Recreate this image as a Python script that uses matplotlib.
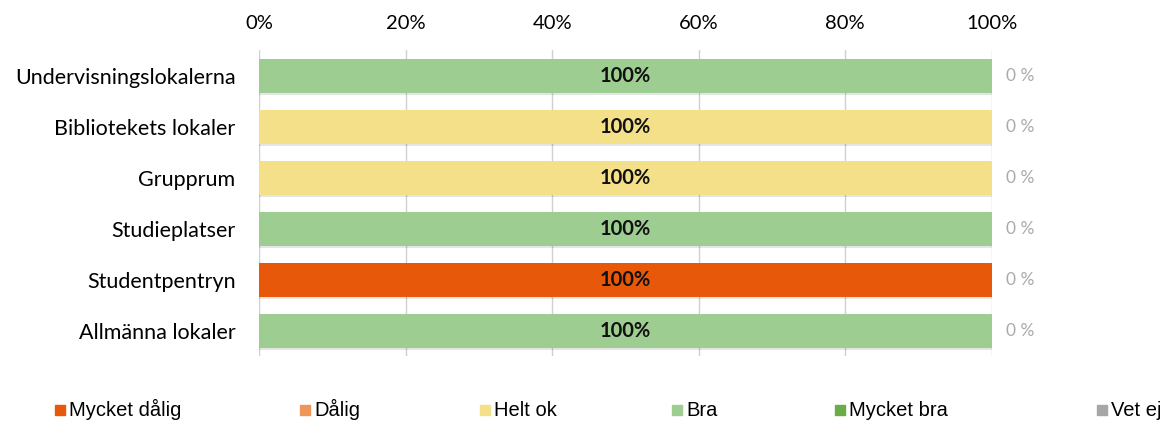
import matplotlib.pyplot as plt
from matplotlib.patches import Rectangle
from matplotlib.ticker import PercentFormatter

categories = ['Undervisningslokalerna', 'Bibliotekets lokaler', 'Grupprum',
              'Studieplatser', 'Studentpentryn', 'Allmänna lokaler']
ratings = ['Mycket dålig', 'Dålig', 'Helt ok', 'Bra', 'Mycket bra']
colors = ['#E8580A', '#F0955A', '#F5E08A', '#9DCD91', '#68AD47']

mycket_dalig = [0, 0, 0, 0, 100, 0]
dalig = [0, 0, 0, 0, 0, 0]
helt_ok = [0, 100, 100, 0, 0, 0]
bra = [100, 0, 0, 100, 0, 100]
mycket_bra = [0, 0, 0, 0, 0, 0]
vet_ej = [0, 0, 0, 0, 0, 0]

series = [mycket_dalig, dalig, helt_ok, bra, mycket_bra]

plt.rcParams['font.family'] = ['Lato', 'DejaVu Sans']


def main():
    fig = plt.figure(figsize=(11.6, 4.21), dpi=100)
    ax = fig.add_axes([0.2233, 0.154, 0.6316, 0.727])

    y = list(range(len(categories)))
    left = [0] * len(categories)
    for vals, col in zip(series, colors):
        # skugga under staplarna
        ax.barh([v + 0.05 for v in y], vals, left=left, height=0.67,
                color='#000000', alpha=0.10, zorder=2)
        bars = ax.barh(y, vals, left=left, height=0.67, color=col, zorder=3)
        for b, v in zip(bars, vals):
            if v > 0:
                ax.text(b.get_x() + b.get_width() / 2, b.get_y() + b.get_height() / 2,
                        f'{v}%', ha='center', va='center', fontsize=14.5,
                        fontweight='bold', color='#111111', zorder=4)
        left = [a + b for a, b in zip(left, vals)]

    for yi, v in zip(y, vet_ej):
        ax.text(102, yi, f'{v} %', ha='left', va='center', fontsize=12.5,
                color='#AAAAAA')

    ax.set_xlim(0, 100)
    ax.set_ylim(len(categories) - 0.5, -0.5)
    ax.set_yticks(y)
    ax.set_yticklabels(categories, fontsize=15.5)
    ax.xaxis.tick_top()
    ax.set_xticks([0, 20, 40, 60, 80, 100])
    ax.xaxis.set_major_formatter(PercentFormatter(decimals=0))
    ax.tick_params(axis='x', labelsize=14.5, length=0, pad=13)
    ax.tick_params(axis='y', length=0, pad=17)
    ax.grid(axis='x', color='#D0D0D0', linewidth=1, zorder=0)
    for s in ax.spines.values():
        s.set_visible(False)

    # förklaring
    leg_x = [55, 300, 480, 672, 835, 1097]
    leg_labels = ratings + ['Vet ej']
    leg_colors = colors + ['#A6A6A6']
    for x, lab, col in zip(leg_x, leg_labels, leg_colors):
        fig.patches.append(Rectangle((x / 1160, 1 - 415 / 421), 10 / 1160, 10 / 421,
                                     transform=fig.transFigure, color=col))
        fig.text((x + 14) / 1160, 1 - 416 / 421, lab, ha='left', va='baseline',
                 fontsize=14.5, family=['Liberation Sans', 'DejaVu Sans'])

    fig.savefig('out.png', dpi=100)


if __name__ == '__main__':
    main()
